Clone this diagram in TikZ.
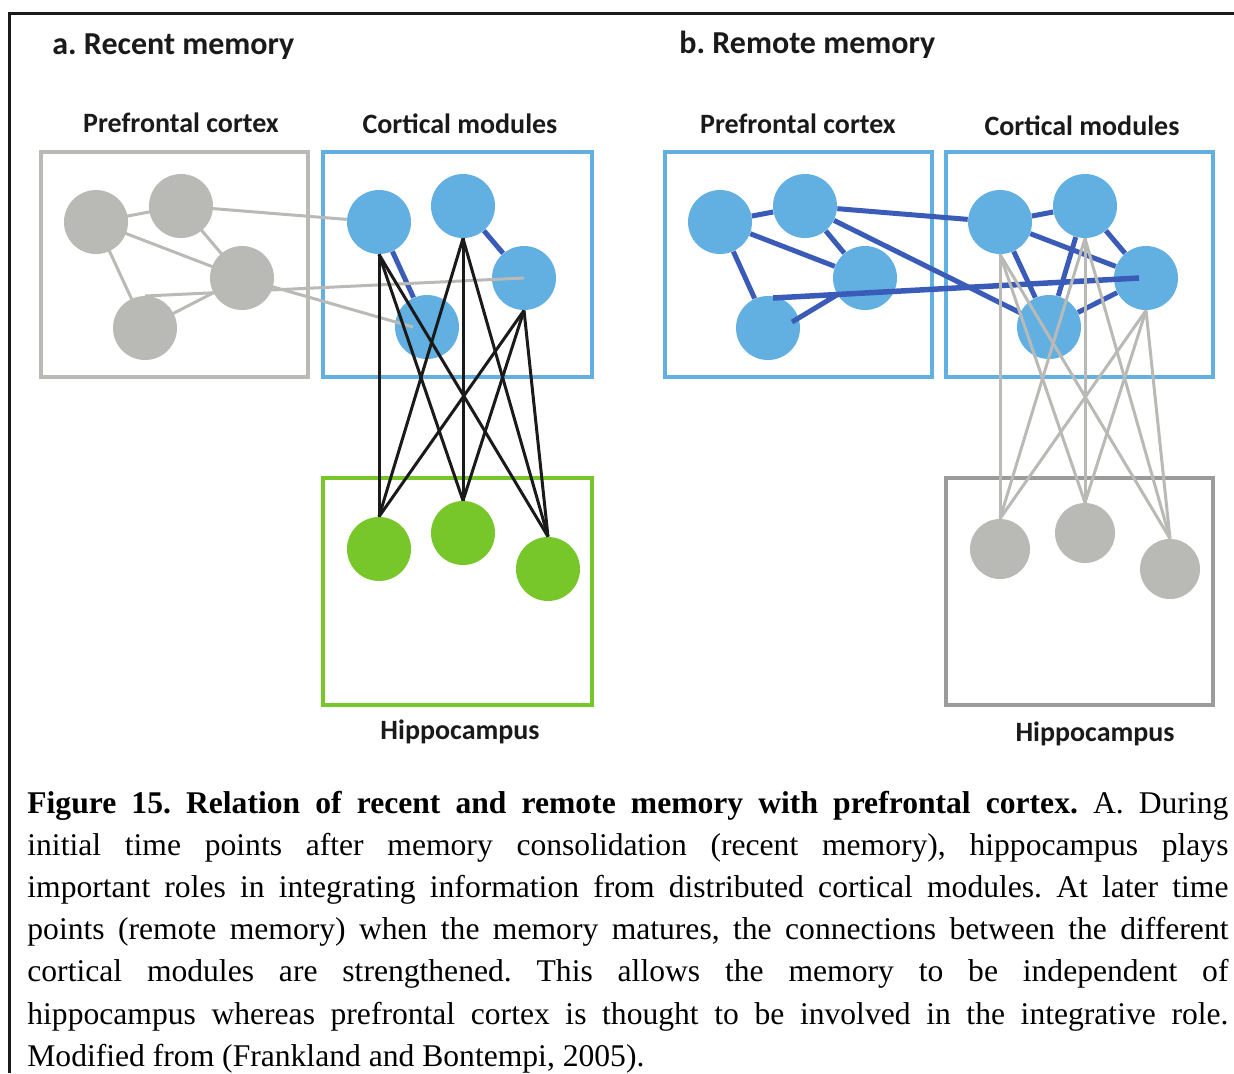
\documentclass[tikz,border=0pt]{standalone}
\usepackage{fontspec}
\setmainfont{Liberation Serif}
\newfontfamily\labfont{Carlito}
\setlength\parindent{0pt}
\frenchspacing
\definecolor{nodeblue}{RGB}{98,176,226}
\definecolor{edgeblue}{RGB}{58,92,184}
\definecolor{nodegray}{RGB}{185,186,181}
\definecolor{boxgray}{RGB}{155,155,155}
\definecolor{hipgreen}{RGB}{120,199,42}
\definecolor{ink}{RGB}{26,26,26}
\newcommand{\capline}[1]{\makebox[600.5pt][s]{#1}\\}

\begin{document}
\begin{tikzpicture}[x=0.5pt,y=-0.5pt,
        cell/.style={circle,inner sep=0pt,minimum size=32pt,fill=#1},
        region/.style={draw=#1,line width=1.75pt},
        grayline/.style={draw=nodegray,line width=1.5pt},
        blackline/.style={draw=ink,line width=1.5pt},
        blueline/.style={draw=edgeblue,line width=2.5pt},
        headtext/.style={font=\labfont\bfseries\fontsize{16}{19}\selectfont,text=ink,inner sep=0pt},
        boxtext/.style={font=\labfont\bfseries\fontsize{14}{17}\selectfont,text=ink,inner sep=0pt,anchor=base}]
    \useasboundingbox (0,0) rectangle (1234,1073);
    \draw[ink, line width=1.5pt] (9,1073) -- (9,13) -- (1234,13);

    % a. recent memory
    \node[headtext, anchor=base west] (ta) at (52,54) {a. Recent memory};
    \node[boxtext] (lpa) at (181,132) {Prefrontal cortex};
    \node[boxtext] (lca) at (460,133) {Cortical modules};
    \node[boxtext] (lha) at (460,739) {Hippocampus};
    \draw[region=nodegray] (41,152) rectangle (308,377);
    \draw[region=nodeblue] (323,152) rectangle (592,377);
    \draw[region=hipgreen] (323,478) rectangle (592,705);

    \node[cell=nodeblue] (ca1) at (379,222) {};
    \node[cell=nodeblue] (ca2) at (463,206) {};
    \node[cell=nodeblue] (ca3) at (524,278) {};
    \node[cell=nodeblue] (ca4) at (427,327) {};
    \coordinate (ca4w) at (413,327);
    \coordinate (pa1) at (96,222);
    \coordinate (pa2) at (181,206);
    \coordinate (pa3) at (242,278);
    \coordinate (pa4) at (145,328);
    \draw[blueline] (ca1) -- (ca4);
    \draw[blueline] (ca2) -- (ca3);

    \draw[grayline] (pa1) -- (pa2) (pa1) -- (pa3) (pa1) -- (pa4)
        (pa2) -- (pa3) (pa3) -- (pa4);
    \draw[grayline] (pa2) -- (ca1);
    \draw[grayline] (pa3) -- (ca4w);
    \draw[grayline] (145,296) -- (ca3.center);
    \node[cell=nodegray] (na1) at (pa1) {};
    \node[cell=nodegray] (na2) at (pa2) {};
    \node[cell=nodegray] (na3) at (pa3) {};
    \node[cell=nodegray] (na4) at (pa4) {};

    \node[cell=hipgreen] (ha1) at (379,549) {};
    \node[cell=hipgreen] (ha2) at (463,533) {};
    \node[cell=hipgreen] (ha3) at (548,569) {};
    \foreach \c in {1,2,3}
        \foreach \h in {1,2,3}
            \draw[blackline] (ca\c.south) -- (ha\h.north);

    % b. remote memory
    \node[headtext, anchor=base west] (tb) at (679,53) {b. Remote memory};
    \node[boxtext] (lpb) at (798,133) {Prefrontal cortex};
    \node[boxtext] (lcb) at (1082,135) {Cortical modules};
    \node[boxtext] (lhb) at (1095,741) {Hippocampus};
    \draw[region=nodeblue] (665,152) rectangle (932,377);
    \draw[region=nodeblue] (946,152) rectangle (1213,377);
    \draw[region=boxgray] (946,478) rectangle (1213,705);

    \node[cell=nodeblue] (pb1) at (720,222) {};
    \node[cell=nodeblue] (pb2) at (805,206) {};
    \node[cell=nodeblue] (pb3) at (865,278) {};
    \node[cell=nodeblue] (pb4) at (768,328) {};
    \node[cell=nodeblue] (cb1) at (1000,222) {};
    \node[cell=nodeblue] (cb2) at (1085,206) {};
    \node[cell=nodeblue] (cb3) at (1146,278) {};
    \node[cell=nodeblue] (cb4) at (1049,327) {};
    \coordinate (pb4e) at (792,322);
    \coordinate (cb3c) at (1139,278);

    \draw[blueline] (pb1) -- (pb2) (pb1) -- (pb3) (pb1) -- (pb4)
        (pb2) -- (pb3) (pb4e) -- (pb3);
    \draw[blueline] (cb1) -- (cb2) (cb1) -- (cb3) (cb1) -- (cb4)
        (cb2) -- (cb3) (cb2) -- (cb4) (cb4) -- (cb3);
    \draw[blueline] (pb2) -- (cb1);
    \draw[blueline] (pb2) -- (cb4);
    \draw[blueline, line width=2.75pt] (773,298) -- (cb3c);

    \node[cell=nodegray, minimum size=30pt] (hb1) at (1000,549) {};
    \node[cell=nodegray, minimum size=30pt] (hb2) at (1085,533) {};
    \node[cell=nodegray, minimum size=30pt] (hb3) at (1170,569) {};
    \foreach \c in {1,2,3}
        \foreach \h in {1,2,3}
            \draw[grayline] (cb\c.south) -- (hb\h.north);

    % caption
    \node[anchor=base west, inner sep=0pt, text width=600.5pt, align=justify,
          font=\fontsize{15.8}{21.1}\selectfont, text=black] (cap) at (27,813) {%
        \capline{\textbf{Figure 15. Relation of recent and remote memory with prefrontal cortex.} A. During}
        \capline{initial time points after memory consolidation (recent memory), hippocampus plays}
        \capline{important roles in integrating information from distributed cortical modules. At later time}
        \capline{points (remote memory) when the memory matures, the connections between the different}
        \capline{cortical modules are strengthened. This allows the memory to be independent of}
        \capline{hippocampus whereas prefrontal cortex is thought to be involved in the integrative role.}
        Modified from (Frankland and Bontempi, 2005).};
\end{tikzpicture}
\end{document}
